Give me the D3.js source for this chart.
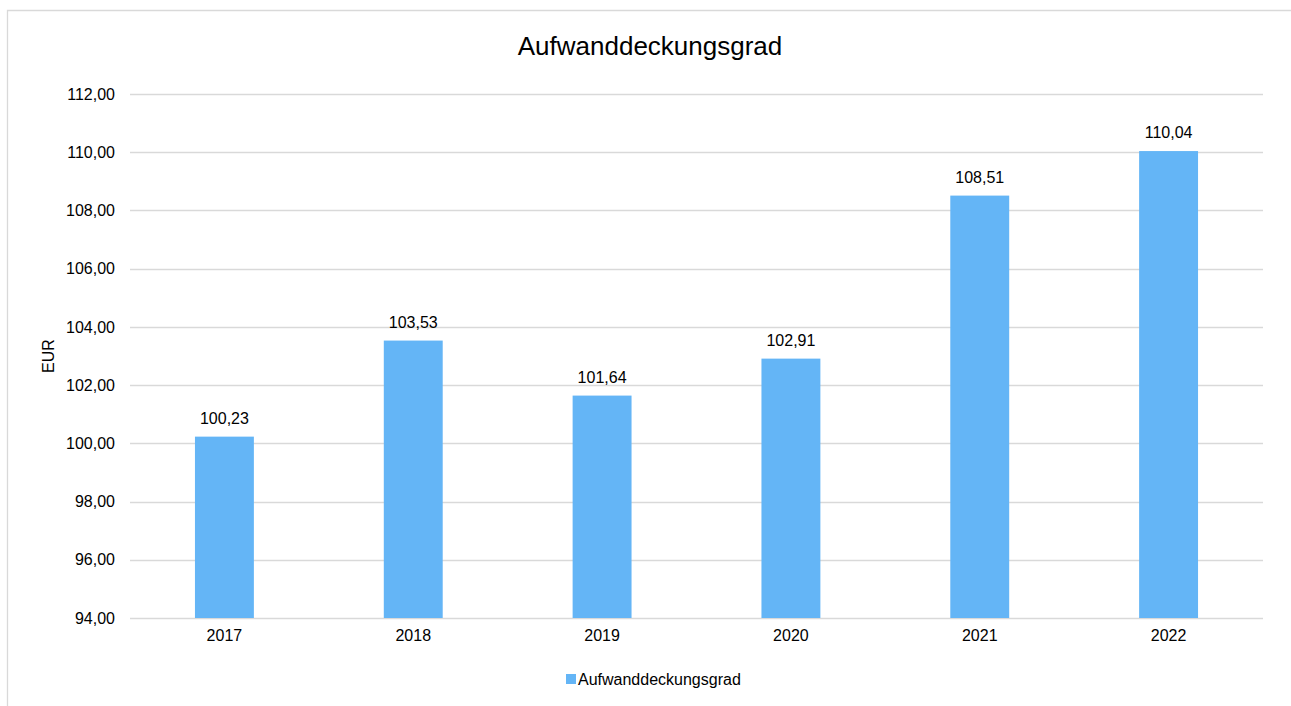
<!DOCTYPE html>
<html>
<head>
<meta charset="utf-8">
<script src="https://cdn.jsdelivr.net/npm/d3@7"></script>
<style>
  body { margin: 0; background: #fff; }
  text { font-family: "Liberation Sans", Arial, sans-serif; fill: #000; }
</style>
</head>
<body>
<div id="chart"></div>
<script>
// chart data
var years = ["2017", "2018", "2019", "2020", "2021", "2022"];
var values = [100.23, 103.53, 101.64, 102.91, 108.51, 110.04];
var yTicks = [94, 96, 98, 100, 102, 104, 106, 108, 110, 112];
var seriesName = "Aufwanddeckungsgrad";

var width = 1291, height = 706;
var margin = { left: 130, right: 28, top: 94, bottom: 88 };

var fmt = function (v) { return v.toFixed(2).replace(".", ","); };

var svg = d3.select("#chart")
    .append("svg")
    .attr("width", width)
    .attr("height", height);

// outer frame (top and left edges only are visible)
svg.append("path")
    .attr("d", "M7.5,706 L7.5,10.5 L1291,10.5")
    .attr("fill", "none")
    .attr("stroke", "#d9d9d9")
    .attr("stroke-width", 1.3);

var x = d3.scaleBand()
    .domain(years)
    .range([margin.left, width - margin.right]);

var y = d3.scaleLinear()
    .domain([94, 112])
    .range([height - margin.bottom, margin.top]);

// gridlines
svg.append("g")
    .selectAll("line")
    .data(yTicks)
    .enter()
    .append("line")
    .attr("x1", margin.left)
    .attr("x2", width - margin.right)
    .attr("y1", function (d) { return Math.round(y(d)) + 0.5; })
    .attr("y2", function (d) { return Math.round(y(d)) + 0.5; })
    .attr("stroke", "#d9d9d9")
    .attr("stroke-width", 1.3);

// y axis labels
var yAxis = d3.axisLeft(y).tickValues(yTicks).tickFormat(fmt).tickSize(0).tickPadding(15);
var gY = svg.append("g")
    .attr("transform", "translate(" + margin.left + ",0)")
    .call(yAxis);
gY.select(".domain").remove();
gY.selectAll("text").style("font-size", "16px").attr("fill", "#000");

// x axis labels
var xAxis = d3.axisBottom(x).tickSize(0).tickPadding(12);
var gX = svg.append("g")
    .attr("transform", "translate(0," + (height - margin.bottom) + ")")
    .call(xAxis);
gX.select(".domain").remove();
gX.selectAll("text").style("font-size", "16px").attr("fill", "#000");

// bars
var barW = x.bandwidth() * 0.312;
svg.append("g")
    .selectAll("rect")
    .data(values)
    .enter()
    .append("rect")
    .attr("x", function (d, i) { return x(years[i]) + x.bandwidth() / 2 - barW / 2; })
    .attr("y", function (d) { return y(d); })
    .attr("width", barW)
    .attr("height", function (d) { return y(94) - y(d); })
    .attr("fill", "#64b5f6");

// data labels
svg.append("g")
    .selectAll("text")
    .data(values)
    .enter()
    .append("text")
    .attr("x", function (d, i) { return x(years[i]) + x.bandwidth() / 2; })
    .attr("y", function (d) { return y(d) - 13; })
    .attr("text-anchor", "middle")
    .style("font-size", "16px")
    .text(fmt);

// title
svg.append("text")
    .attr("x", 650)
    .attr("y", 55)
    .attr("text-anchor", "middle")
    .style("font-size", "26px")
    .text(seriesName);

// y axis title
svg.append("text")
    .attr("transform", "translate(54,356) rotate(-90)")
    .attr("text-anchor", "middle")
    .style("font-size", "16px")
    .text("EUR");

// legend
svg.append("rect")
    .attr("x", 566).attr("y", 674)
    .attr("width", 10).attr("height", 10)
    .attr("fill", "#64b5f6");
svg.append("text")
    .attr("x", 578)
    .attr("y", 685)
    .style("font-size", "16px")
    .text(seriesName);
</script>
</body>
</html>
